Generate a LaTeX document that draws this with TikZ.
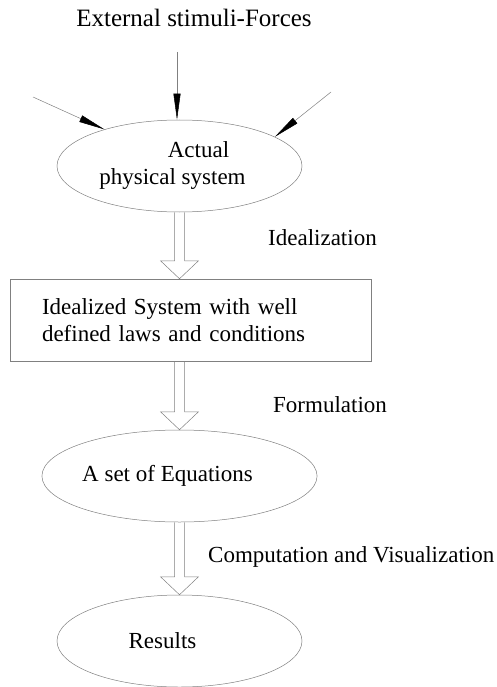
\documentclass[tikz,border=0pt]{standalone}
\usepackage{fontspec}
\setmainfont{Liberation Serif}
\usetikzlibrary{arrows.meta,shapes.geometric,calc}

\newcommand\hollowarrow[2]{%
  \draw[blk] let \p1=(#1), \p2=(#2) in
    (\x1-5pt,\y1) -- (\x1-5pt,\y2+18pt) -- (\x1-19pt,\y2+18pt) -- (\x1,\y2)
    -- (\x1+19pt,\y2+18pt) -- (\x1+5pt,\y2+18pt) -- (\x1+5pt,\y1);}

\begin{document}
\begin{tikzpicture}[x=1pt,y=-1pt,
    every node/.style={font=\fontsize{23}{27}\selectfont, inner sep=0pt},
    oval/.style={ellipse, draw=gray, line width=0.5pt, minimum width=245pt, minimum height=92pt, align=center},
    box/.style={rectangle, draw=gray, line width=0.5pt, text width=297pt, inner xsep=32pt, minimum height=82pt, align=left},
    force/.style={gray, line width=0.5pt, -{Triangle[length=26pt,width=7pt,black]}},
    blk/.style={draw=gray, line width=0.5pt}]
		\useasboundingbox (0,0) rectangle (496,687);

		\node[font=\fontsize{25}{30}\selectfont] (title) at (194,18) {External stimuli-Forces};

		\node[oval] (sys) at (179.5,166) {\hspace*{38pt}Actual\\physical system\hspace*{14pt}};
		\node[box] (ideal) at (190.5,320) {Idealized System with well\\defined laws and conditions};
		\node[oval] (eqs) at (179.5,476) {A set of Equations\hspace*{24pt}};
		\node[oval] (res) at (179.5,641) {Results\hspace*{34pt}};

		\coordinate (ft) at (177,52);
		\coordinate (fl) at (33,97);
		\coordinate (fr) at (331,92);
		\draw[force] (ft) -- (ft |- sys.north);
		\draw[force] (fl) -- (sys.154);
		\draw[force] (fr) -- (sys.17);

		\hollowarrow{sys.south}{sys.south |- ideal.north}
		\hollowarrow{sys.south |- ideal.south}{eqs.north}
		\hollowarrow{eqs.south}{res.north}

		\node[anchor=west] (idl) at (268,238) {Idealization};
		\node[anchor=west] (fml) at (273,405) {Formulation};
		\node[anchor=west] (cmp) at (208,557) {Computation and Visualization};
\end{tikzpicture}
\end{document}
